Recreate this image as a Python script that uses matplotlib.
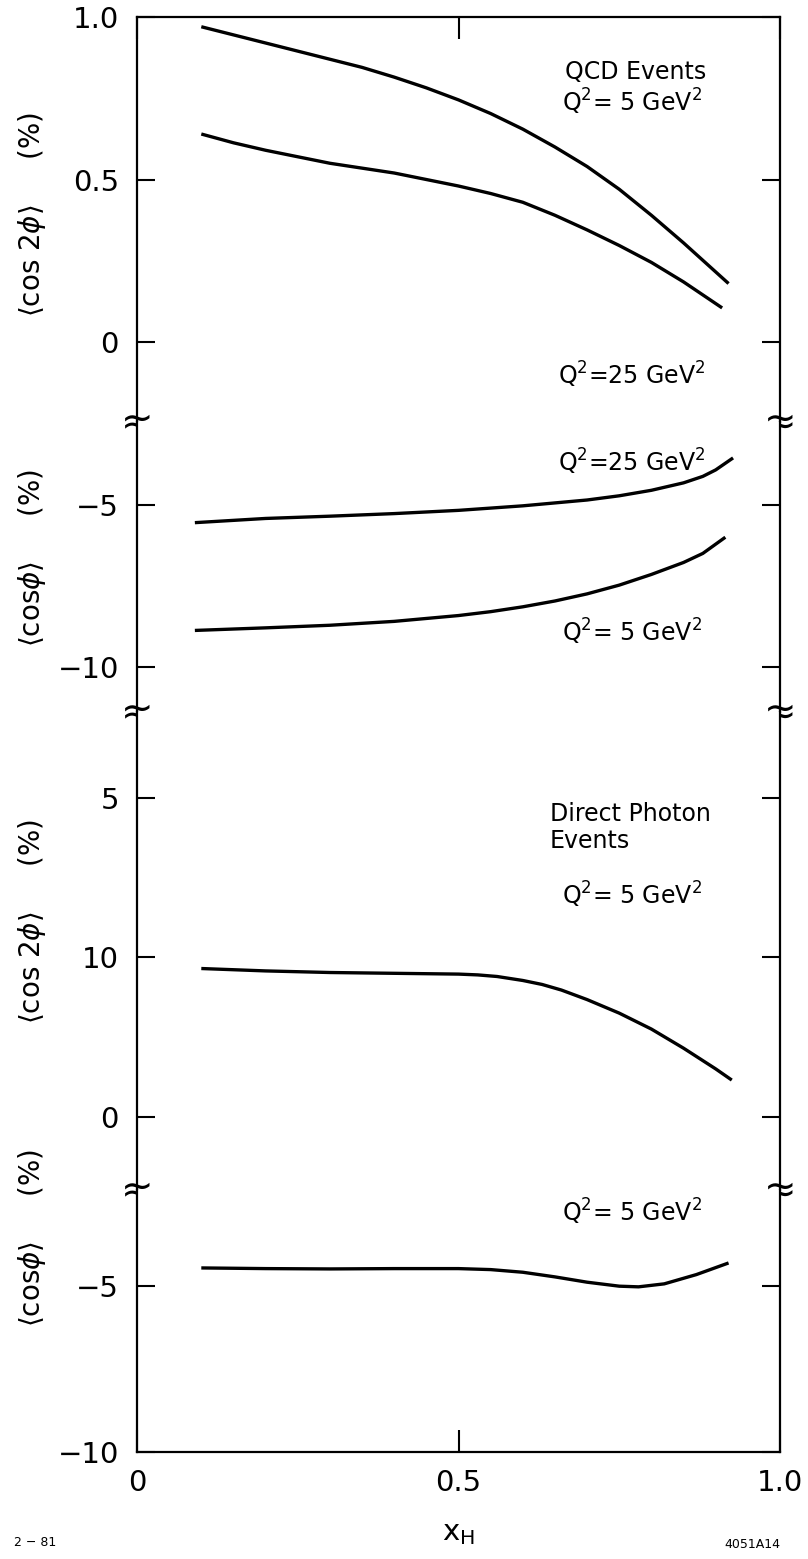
import matplotlib
matplotlib.use("Agg")
import matplotlib.pyplot as plt

# ---------------- data ----------------
# Panel 1: QCD events, <cos2phi> (%)
qcd_c2_x_q5 = [0.10, 0.15, 0.20, 0.25, 0.30, 0.35, 0.40, 0.45, 0.50, 0.55, 0.60, 0.65, 0.70, 0.75, 0.80, 0.85, 0.92]
qcd_c2_y_q5 = [0.97, 0.945, 0.92, 0.895, 0.87, 0.845, 0.815, 0.782, 0.745, 0.703, 0.655, 0.60, 0.54, 0.47, 0.39, 0.305, 0.18]
qcd_c2_x_q25 = [0.10, 0.15, 0.20, 0.25, 0.30, 0.35, 0.40, 0.45, 0.50, 0.55, 0.60, 0.65, 0.70, 0.75, 0.80, 0.85, 0.91]
qcd_c2_y_q25 = [0.64, 0.613, 0.59, 0.57, 0.55, 0.535, 0.52, 0.50, 0.48, 0.457, 0.43, 0.39, 0.345, 0.297, 0.245, 0.185, 0.105]

# Panel 2: QCD events, <cosphi> (%)
qcd_c1_x_q25 = [0.09, 0.20, 0.30, 0.40, 0.50, 0.60, 0.70, 0.75, 0.80, 0.85, 0.88, 0.90, 0.927]
qcd_c1_y_q25 = [-5.55, -5.42, -5.35, -5.27, -5.17, -5.03, -4.85, -4.72, -4.55, -4.32, -4.12, -3.92, -3.55]
qcd_c1_x_q5 = [0.09, 0.20, 0.30, 0.40, 0.50, 0.55, 0.60, 0.65, 0.70, 0.75, 0.80, 0.85, 0.88, 0.915]
qcd_c1_y_q5 = [-8.88, -8.80, -8.72, -8.60, -8.42, -8.30, -8.15, -7.97, -7.75, -7.48, -7.15, -6.78, -6.50, -6.00]

# Panel 3: direct photon events, <cos2phi> (%)
dp_c2_x = [0.10, 0.20, 0.30, 0.40, 0.50, 0.53, 0.56, 0.60, 0.63, 0.66, 0.70, 0.75, 0.80, 0.85, 0.90, 0.925]
dp_c2_y = [9.3, 9.15, 9.05, 9.0, 8.95, 8.9, 8.8, 8.55, 8.3, 7.95, 7.35, 6.5, 5.5, 4.3, 3.0, 2.3]

# Panel 4: direct photon events, <cosphi> (%)
dp_c1_x = [0.10, 0.20, 0.30, 0.40, 0.50, 0.55, 0.60, 0.65, 0.70, 0.75, 0.78, 0.82, 0.87, 0.92]
dp_c1_y = [-4.45, -4.47, -4.48, -4.47, -4.47, -4.50, -4.58, -4.72, -4.88, -5.00, -5.02, -4.93, -4.65, -4.30]

# tick values / labels
p1_ticks = [0.0, 0.5, 1.0]
p1_labels = ["0", "0.5", "1.0"]
p2_ticks = [-10, -5]
p2_labels = ["\u221210", "\u22125"]
p3_ticks = [0, 10, 20]
p3_labels = ["0", "10", "5"]
p4_ticks = [-10, -5]
p4_labels = ["\u221210", "\u22125"]
x_ticks = [0.0, 0.5, 1.0]
x_labels = ["0", "0.5", "1.0"]

# ---------------- layout ----------------
W, H = 808, 1559
fig = plt.figure(figsize=(W / 100, H / 100), dpi=100)
plt.rcParams['font.family'] = ['DejaVu Sans']
plt.rcParams['mathtext.fontset'] = 'dejavusans'

x_left, x_right = 137, 780
y_top, b1, b2, b3, y_bot = 17, 422, 712, 1190, 1452
bounds = [y_top, b1, b2, b3, y_bot]
ylims = [(-0.246, 1.0), (-11.4, -2.44), (-4.6, 25.4), (-10.0, -2.1)]

axes = []
for i in range(4):
    top, bot = bounds[i], bounds[i + 1]
    ax = fig.add_axes([x_left / W, 1 - bot / H, (x_right - x_left) / W, (bot - top) / H])
    ax.set_xlim(0, 1)
    ax.set_ylim(*ylims[i])
    for s in ax.spines.values():
        s.set_linewidth(1.6)
    if i != 0:
        ax.spines['top'].set_visible(False)
    if i != 3:
        ax.spines['bottom'].set_visible(False)
    axes.append(ax)

LW = 2.4
tick_fs = 21
txt_fs = 17

def style_y(ax, ticks, labels):
    ax.set_yticks(ticks)
    ax.set_yticklabels(labels, fontsize=tick_fs)
    ax.tick_params(axis='y', which='both', direction='in', length=13, width=1.5,
                   left=True, right=True, pad=13)

ax1, ax2, ax3, ax4 = axes

ax1.plot(qcd_c2_x_q5, qcd_c2_y_q5, color='black', lw=LW, solid_capstyle='butt')
ax1.plot(qcd_c2_x_q25, qcd_c2_y_q25, color='black', lw=LW, solid_capstyle='butt')
style_y(ax1, p1_ticks, p1_labels)
ax1.text(0.776, 0.83, "QCD Events", fontsize=txt_fs, ha='center', va='center')
ax1.text(0.77, 0.74, r"Q$^2$= 5 GeV$^2$", fontsize=txt_fs, ha='center', va='center')
ax1.text(0.77, -0.10, r"Q$^2$=25 GeV$^2$", fontsize=txt_fs, ha='center', va='center')

ax2.plot(qcd_c1_x_q25, qcd_c1_y_q25, color='black', lw=LW, solid_capstyle='butt')
ax2.plot(qcd_c1_x_q5, qcd_c1_y_q5, color='black', lw=LW, solid_capstyle='butt')
style_y(ax2, p2_ticks, p2_labels)
ax2.text(0.77, -3.67, r"Q$^2$=25 GeV$^2$", fontsize=txt_fs, ha='center', va='center')
ax2.text(0.77, -8.92, r"Q$^2$= 5 GeV$^2$", fontsize=txt_fs, ha='center', va='center')

ax3.plot(dp_c2_x, dp_c2_y, color='black', lw=LW, solid_capstyle='butt')
style_y(ax3, p3_ticks, p3_labels)
ax3.text(0.642, 19.0, "Direct Photon", fontsize=txt_fs, ha='left', va='center')
ax3.text(0.642, 17.3, "Events", fontsize=txt_fs, ha='left', va='center')
ax3.text(0.77, 13.9, r"Q$^2$= 5 GeV$^2$", fontsize=txt_fs, ha='center', va='center')

ax4.plot(dp_c1_x, dp_c1_y, color='black', lw=LW, solid_capstyle='butt')
style_y(ax4, p4_ticks, p4_labels)
ax4.text(0.77, -2.75, r"Q$^2$= 5 GeV$^2$", fontsize=txt_fs, ha='center', va='center', clip_on=False)

# x axis: ticks at top of first panel and bottom of last panel
for ax in axes:
    ax.set_xticks(x_ticks)
    ax.tick_params(axis='x', which='both', direction='in', length=16, width=1.5,
                   bottom=False, top=False, labelbottom=False, labeltop=False)
ax1.tick_params(axis='x', top=True)
ax4.tick_params(axis='x', bottom=True, labelbottom=True, pad=12)
ax4.set_xticklabels(x_labels, fontsize=tick_fs)
ax4.set_xlabel(r"x$_\mathregular{H}$", fontsize=tick_fs, labelpad=16)

# break marks on both sides
for ax in axes[:3]:
    for xs in (0, 1):
        ax.text(xs, 0, "\u2248", transform=ax.transAxes, ha='center', va='center',
                fontsize=28, clip_on=False)

# y labels
ylab_x = 32 / W
ylabs = [(r"$\langle$cos 2$\phi\rangle$     (%)", 215),
         (r"$\langle$cos$\phi\rangle$     (%)", 558),
         (r"$\langle$cos 2$\phi\rangle$     (%)", 922),
         (r"$\langle$cos$\phi\rangle$     (%)", 1238)]
for s, yc in ylabs:
    fig.text(ylab_x, 1 - yc / H, s, rotation=90, fontsize=20, ha='center', va='center')

fig.text(14 / W, 1 - 1543 / H, "2 \u2212 81", fontsize=9, ha='left', va='center')
fig.text(780 / W, 1 - 1545 / H, "4051A14", fontsize=9, ha='right', va='center')

fig.savefig("out.png", dpi=100)
